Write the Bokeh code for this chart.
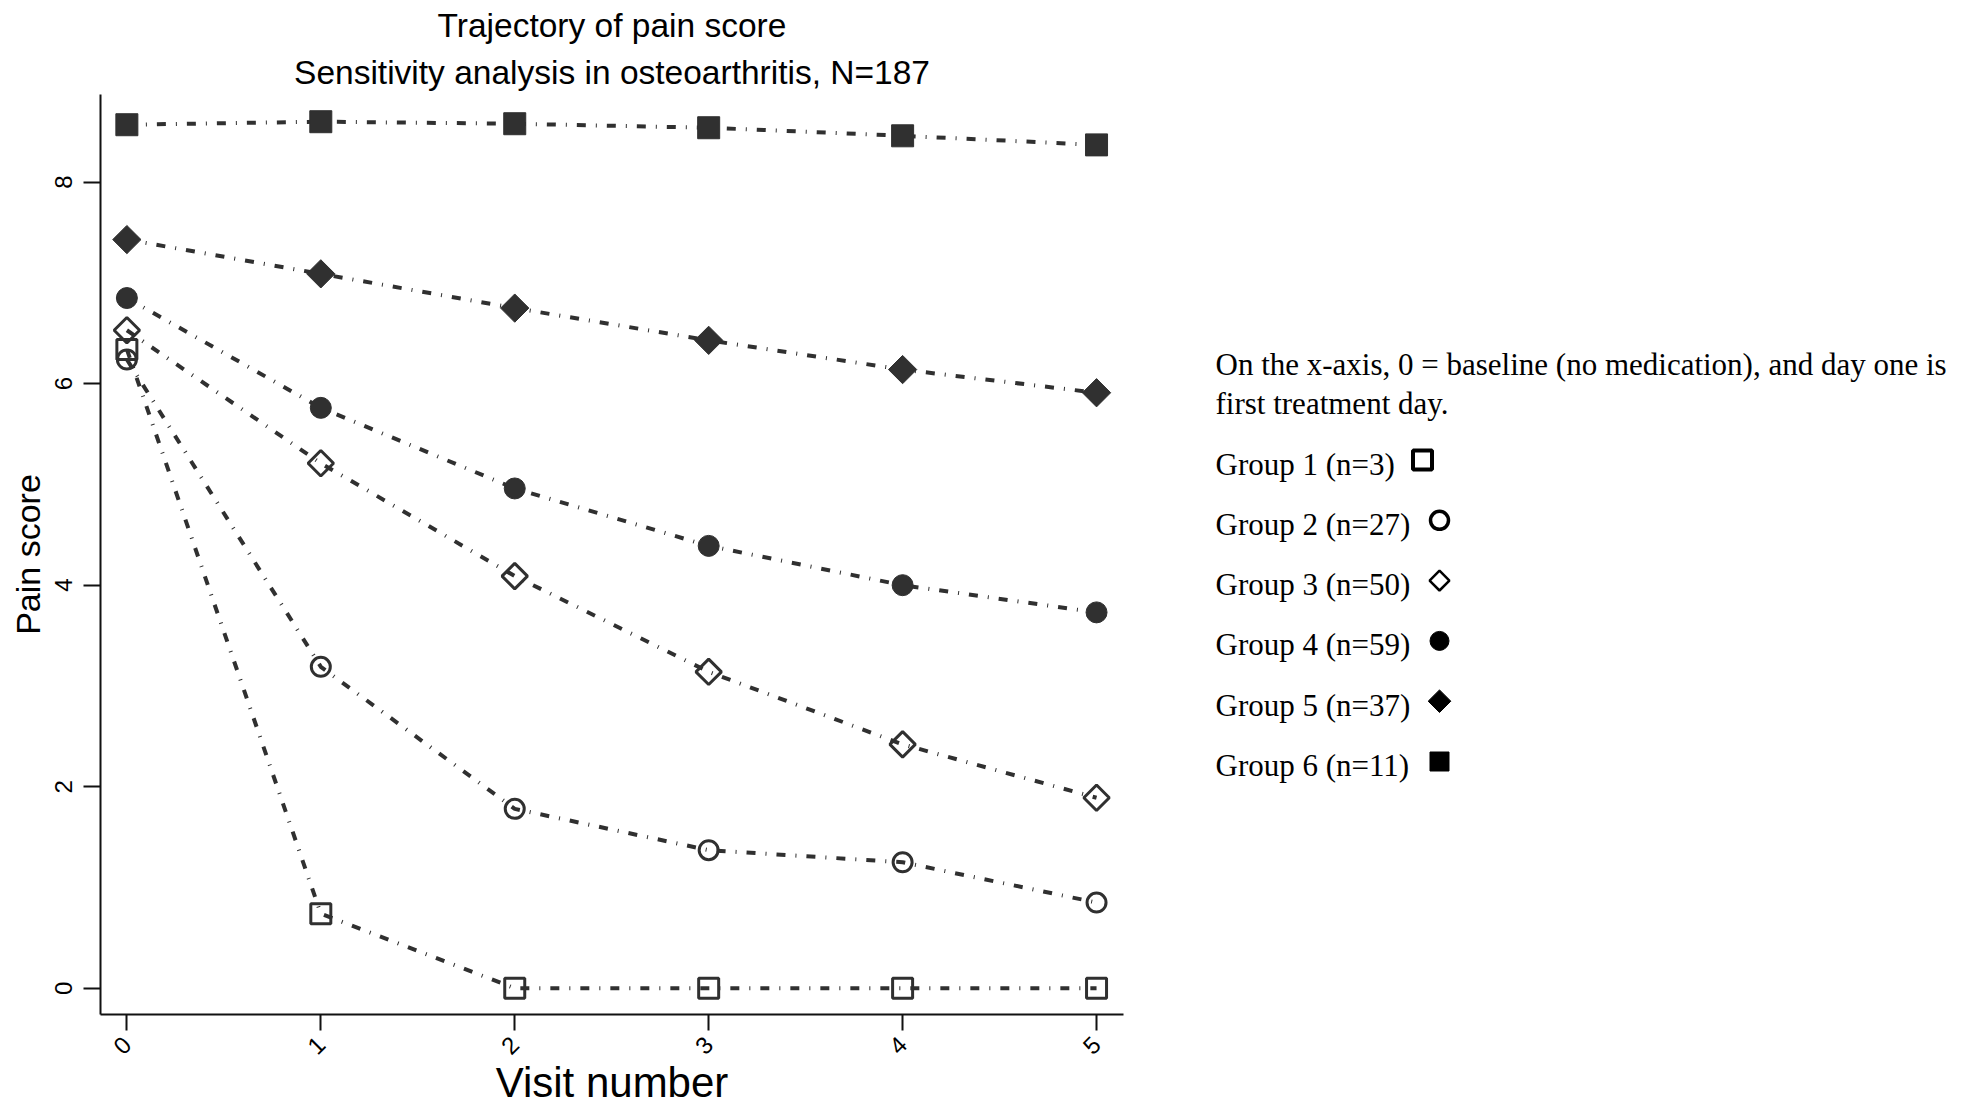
import numpy as np
from bokeh.plotting import figure
from bokeh.layouts import row
from bokeh.models import Range1d, FixedTicker, Title
from bokeh.embed import file_html
from bokeh.resources import INLINE
from bokeh.core.properties import value

# ---------------- data ----------------
visits = [0, 1, 2, 3, 4, 5]
group_labels = ["Group 1 (n=3)", "Group 2 (n=27)", "Group 3 (n=50)",
                "Group 4 (n=59)", "Group 5 (n=37)", "Group 6 (n=11)"]
group1 = [6.34, 0.74, 0.00, 0.00, 0.00, 0.00]
group2 = [6.24, 3.19, 1.78, 1.37, 1.25, 0.85]
group3 = [6.53, 5.21, 4.09, 3.14, 2.42, 1.89]
group4 = [6.85, 5.76, 4.96, 4.39, 4.00, 3.73]
group5 = [7.43, 7.09, 6.75, 6.43, 6.14, 5.91]
group6 = [8.57, 8.60, 8.58, 8.54, 8.46, 8.37]
x_ticks = [0, 1, 2, 3, 4, 5]
y_ticks = [0, 2, 4, 6, 8]
title_lines = ["Trajectory of pain score",
               "Sensitivity analysis in osteoarthritis, N=187"]
x_title = "Visit number"
y_title = "Pain score"
note_lines = ["On the x-axis, 0 = baseline (no medication), and day one is",
              "first treatment day."]

series = [group1, group2, group3, group4, group5, group6]

# ---------------- styles ----------------
MARK = "#303030"
SANS = "Liberation Sans"
SERIF = "Liberation Serif"
D = np.pi / 4
# (marker, angle, size, filled, line width) for plot / legend
styles_plot = [("square", 0, 20, False, 3), ("circle", 0, 19, False, 3),
               ("square", D, 18, False, 3), ("circle", 0, 21, True, 1),
               ("square", D, 20, True, 1), ("square", 0, 22, True, 1)]
styles_leg = [("square", 0, 19, False, 4), ("circle", 0, 18, False, 3.5),
              ("square", D, 14, False, 2.5), ("circle", 0, 19, True, 1),
              ("square", D, 16, True, 1), ("square", 0, 19, True, 1)]

# ---------------- main plot ----------------
p = figure(width=1200, height=1109,
           x_range=Range1d(-0.136, 5.139), y_range=Range1d(-0.261, 8.87),
           output_backend="svg", toolbar_location=None, title_location=None,
           min_border_left=100, min_border_right=77,
           min_border_top=94, min_border_bottom=95)
p.outline_line_color = None
p.grid.visible = False
p.background_fill_color = "white"
p.border_fill_color = "white"

p.xaxis.ticker = FixedTicker(ticks=x_ticks)
p.yaxis.ticker = FixedTicker(ticks=y_ticks)
for ax in p.axis:
    ax.axis_line_width = 2
    ax.axis_line_color = "#111111"
    ax.major_tick_line_width = 2
    ax.major_tick_line_color = "#111111"
    ax.major_tick_in = 0
    ax.minor_tick_in = 0
    ax.minor_tick_out = 0
    ax.major_label_text_font = SANS
    ax.major_label_text_font_size = "24px"
    ax.major_label_text_color = "black"
p.xaxis.major_tick_out = 16
p.xaxis.major_label_standoff = 10
p.xaxis.major_label_orientation = np.pi / 4
p.yaxis.major_tick_out = 17
p.yaxis.major_label_standoff = 11
p.yaxis.major_label_orientation = "vertical"

p.xaxis.axis_label = x_title
p.xaxis.axis_label_text_font = SANS
p.xaxis.axis_label_text_font_size = "42px"
p.xaxis.axis_label_text_font_style = "normal"
p.xaxis.axis_label_text_color = "black"
p.xaxis.axis_label_standoff = -6

p.yaxis.axis_label = y_title
p.yaxis.axis_label_text_font = SANS
p.yaxis.axis_label_text_font_size = "34px"
p.yaxis.axis_label_text_font_style = "normal"
p.yaxis.axis_label_text_color = "black"
p.yaxis.axis_label_standoff = 6

for vals, (mk, ang, sz, filled, lw) in zip(series, styles_plot):
    p.line(visits, vals, line_color=MARK, line_width=4,
           line_dash="9 10 1 10", line_cap="butt")
for vals, (mk, ang, sz, filled, lw) in zip(series, styles_plot):
    p.scatter(visits, vals, marker=mk, angle=ang, size=sz,
              fill_color=MARK if filled else None,
              line_color=MARK, line_width=lw)

# two-line title: first added sits closest to the plot
p.add_layout(Title(text=title_lines[1], align="center", text_font=SANS,
                   text_font_size="33.5px", text_font_style="normal",
                   text_color="black", standoff=8), "above")
p.add_layout(Title(text=title_lines[0], align="center", text_font=SANS,
                   text_font_size="33.5px", text_font_style="normal",
                   text_color="black", standoff=8), "above")

# ---------------- legend / note panel ----------------
# frame of this panel is aligned with the main frame (page y 94..1014)
q = figure(width=770, height=1109, x_range=Range1d(1200, 1970), y_range=Range1d(1014, 94),
           output_backend="svg", toolbar_location=None, title_location=None,
           x_axis_location=None, y_axis_location=None,
           min_border_left=0, min_border_right=0, min_border_top=0, min_border_bottom=0)
q.outline_line_color = None
q.grid.visible = False

text_x = 1215
note_base = [363.5 + 39 * i for i in range(len(note_lines))]
q.text(x=[text_x] * len(note_lines), y=note_base, text=note_lines,
       text_font=value(SERIF), text_font_size="31px", text_color="black",
       text_baseline="alphabetic", text_align="left")

row_base = [463.5 + 60.3 * i for i in range(len(group_labels))]
q.text(x=[text_x] * len(group_labels), y=row_base, text=group_labels,
       text_font=value(SERIF), text_font_size="31px", text_color="black",
       text_baseline="alphabetic", text_align="left")

mark_x = [1422] + [1439] * (len(group_labels) - 1)
for i, (mk, ang, sz, filled, lw) in enumerate(styles_leg):
    q.scatter([mark_x[i]], [row_base[i] - 4], marker=mk, angle=ang, size=sz,
              fill_color="black" if filled else None,
              line_color="black", line_width=lw)

layout = row(p, q)
open("out.html", "w").write(file_html(layout, INLINE))
